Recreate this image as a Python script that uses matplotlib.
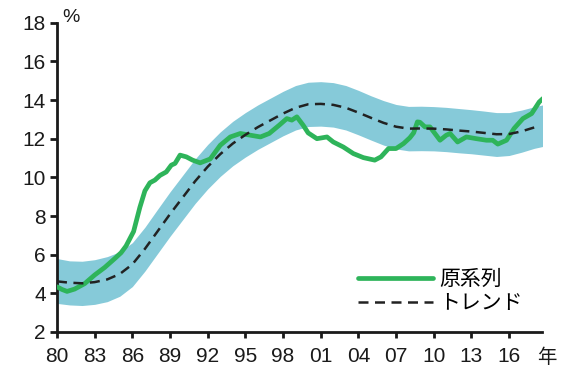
import matplotlib
matplotlib.use('Agg')
from matplotlib import pyplot as plt

plt.rcParams['font.family'] = ['Liberation Sans', 'Noto Sans CJK JP', 'DejaVu Sans']

# 原系列 (year, %)
orig_years = [1980.0, 1980.4, 1980.8, 1981.4, 1982.2, 1983.0, 1983.8, 1984.6, 1985.1, 1985.5,
              1986.1, 1986.6, 1987.0, 1987.4, 1987.8, 1988.2, 1988.7, 1989.1, 1989.4, 1989.8,
              1990.3, 1990.8, 1991.4, 1992.2, 1993.0, 1993.8, 1994.6, 1995.4, 1996.2, 1996.9,
              1997.7, 1998.3, 1998.7, 1999.1, 1999.6, 2000.0, 2000.7, 2001.5, 2002.0, 2002.8,
              2003.6, 2004.4, 2005.3, 2005.8, 2006.4, 2007.0, 2007.6, 2008.1, 2008.4, 2008.7,
              2008.9, 2009.3, 2009.7, 2010.5, 2011.0, 2011.3, 2011.9, 2012.6, 2013.4, 2014.2,
              2014.7, 2015.1, 2015.8, 2016.4, 2017.1, 2017.8, 2018.4, 2018.7]
orig_vals = [4.34, 4.2, 4.1, 4.22, 4.5, 4.95, 5.34, 5.8, 6.1, 6.45,
             7.2, 8.45, 9.3, 9.72, 9.86, 10.1, 10.28, 10.63, 10.72, 11.15,
             11.06, 10.89, 10.75, 10.95, 11.66, 12.09, 12.27, 12.18, 12.09, 12.27,
             12.7, 13.04, 12.96, 13.13, 12.7, 12.3, 12.0, 12.09, 11.83, 11.57,
             11.23, 11.02, 10.89, 11.06, 11.49, 11.49, 11.75, 12.05, 12.3, 12.87,
             12.85, 12.61, 12.61, 11.92, 12.18, 12.27, 11.83, 12.09, 12.0, 11.92,
             11.92, 11.72, 11.92, 12.53, 13.04, 13.3, 13.9, 14.08]

# トレンド and band
trend_years = list(range(1980, 2019)) + [2018.7]
trend_vals = [4.62, 4.55, 4.52, 4.58, 4.72, 5.0, 5.5, 6.3, 7.2, 8.1,
              8.95, 9.8, 10.55, 11.2, 11.75, 12.2, 12.6, 12.95, 13.3, 13.6,
              13.78, 13.8, 13.75, 13.6, 13.35, 13.08, 12.82, 12.62, 12.52, 12.53,
              12.52, 12.48, 12.42, 12.37, 12.3, 12.23, 12.24, 12.38, 12.58, 12.7]
band_upper = [5.8, 5.68, 5.66, 5.74, 5.9, 6.15, 6.62, 7.42, 8.34, 9.25,
              10.1, 10.95, 11.7, 12.35, 12.9, 13.35, 13.75, 14.1, 14.45, 14.75,
              14.92, 14.95, 14.9, 14.75, 14.5, 14.22, 13.97, 13.77, 13.67, 13.68,
              13.66, 13.62, 13.56, 13.5, 13.43, 13.35, 13.35, 13.48, 13.65, 13.75]
band_lower = [3.48, 3.4, 3.37, 3.43, 3.57, 3.85, 4.35, 5.15, 6.05, 6.95,
              7.8, 8.65, 9.4, 10.05, 10.6, 11.05, 11.45, 11.8, 12.15, 12.45,
              12.63, 12.65, 12.6, 12.45, 12.2, 11.93, 11.67, 11.47, 11.37, 11.38,
              11.37, 11.33, 11.27, 11.22, 11.15, 11.08, 11.13, 11.3, 11.5, 11.6]

xtick_years = list(range(1980, 2017, 3))
xtick_labels = ['80', '83', '86', '89', '92', '95', '98', '01', '04', '07', '10', '13', '16']
yticks = list(range(2, 19, 2))

fig = plt.figure(figsize=(5.66, 3.74), dpi=100)
ax = fig.add_axes([0.1007, 0.1123, 0.8564, 0.827])

ax.fill_between(trend_years, band_lower, band_upper, color='#86cad9', linewidth=0, zorder=1)
ax.plot([trend_years[-1], trend_years[-1]], [2, band_lower[-1]], color='#dcf0f5', lw=0.8, zorder=1)
ax.plot(orig_years, orig_vals, color='#2eb45a', lw=3.4, solid_capstyle='round',
        solid_joinstyle='round', label='原系列', zorder=3)
ax.plot(trend_years[:-1], trend_vals[:-1], color='#222222', lw=1.8, dashes=(4, 2.6),
        label='トレンド', zorder=4)

ax.set_xlim(1980, 2018.6)
ax.set_ylim(2, 18)
ax.set_xticks(xtick_years)
ax.set_xticklabels(xtick_labels)
ax.set_yticks(yticks)

for s in ['top', 'right']:
    ax.spines[s].set_visible(False)
for s in ['left', 'bottom']:
    ax.spines[s].set_linewidth(2.0)
    ax.spines[s].set_color('#1a1a1a')
ax.tick_params(axis='both', colors='#1a1a1a', labelsize=15, width=2.0)
ax.tick_params(axis='y', length=5, pad=3)
ax.tick_params(axis='x', length=4, pad=7)

ax.text(0.01, 1.017, '%', transform=ax.transAxes, fontsize=14, color='#1a1a1a',
        ha='left', va='center')
ax.text(1.011, -0.084, '年', transform=ax.transAxes, fontsize=14, color='#1a1a1a',
        ha='center', va='center')

leg = ax.legend(loc='center left', bbox_to_anchor=(0.6, 0.13), frameon=False, fontsize=15,
                handlelength=3.6, handletextpad=0.3, labelspacing=0.25, borderpad=0)

fig.savefig('out.png', dpi=100)
